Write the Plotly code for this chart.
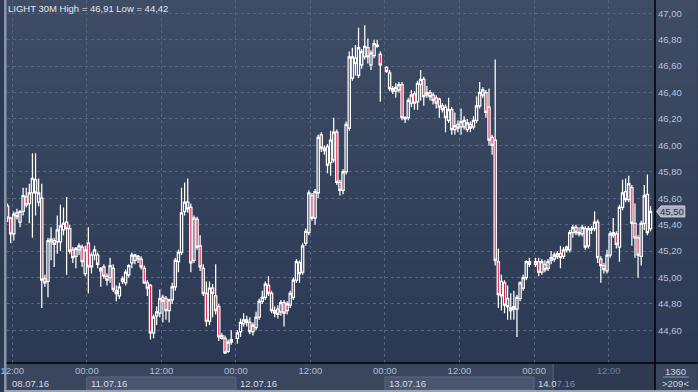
import plotly.graph_objects as go

# ---------------- data (LIGHT, 30M bars) ----------------
opens = [45.54,45.45,45.33,45.49,45.42,45.50,45.61,45.56,45.64,45.74,45.57,45.60,44.99,44.97,45.27,45.28,45.27,45.27,45.36,45.42,
         45.37,45.21,45.16,45.21,45.23,45.03,45.26,45.17,45.17,45.17,45.05,45.08,45.01,45.00,45.07,44.90,44.86,44.97,44.96,45.02,
         45.11,45.13,45.16,45.14,45.07,44.96,44.94,44.58,44.71,44.73,44.85,44.84,44.75,44.83,44.93,45.12,45.19,45.50,45.57,45.53,
         45.13,45.44,45.24,45.07,44.88,44.67,44.92,44.86,44.78,44.54,44.54,44.44,44.51,None,44.54,44.59,44.65,44.68,44.66,44.59,
         44.62,44.70,44.82,44.85,44.94,44.88,44.75,44.76,44.74,44.81,44.75,44.79,44.85,44.98,45.11,45.04,45.26,45.34,45.62,45.45,
         45.64,46.08,45.98,45.99,45.87,45.89,46.10,45.72,45.66,45.80,46.13,46.51,46.66,46.53,46.61,46.67,46.74,46.61,46.68,46.75,
         46.69,None,46.59,46.55,46.41,46.41,46.42,46.46,46.21,46.21,46.32,46.39,46.33,46.46,46.50,46.38,46.40,46.38,46.36,46.35,
         46.30,46.29,46.19,46.27,46.12,46.16,46.14,46.14,46.12,46.16,46.14,46.19,46.30,46.38,46.40,46.29,46.06,46.04,45.12,44.97,
         44.96,44.84,44.75,44.76,44.76,44.84,44.92,45.00,45.12,None,45.10,45.12,45.04,45.10,45.07,45.13,45.14,45.16,45.18,45.16,
         45.21,45.21,45.34,45.38,45.33,45.33,45.37,45.24,45.36,45.37,45.42,45.14,45.09,45.05,45.17,45.32,45.33,45.23,45.53,45.65,
         45.59,45.68,45.41,45.30,45.16,45.41,45.63,45.37]
highs = [45.56,45.46,45.50,45.52,45.51,45.68,45.68,45.71,45.94,45.94,45.75,45.71,45.02,45.30,45.38,45.30,45.47,45.55,45.53,45.61,
         45.40,45.23,45.23,45.26,45.25,45.24,45.38,45.19,45.24,45.19,45.08,45.10,45.03,45.15,45.10,44.94,44.96,45.01,45.06,45.10,
         45.19,45.18,45.17,45.16,45.09,44.98,44.95,44.72,44.78,44.91,44.87,44.86,44.84,44.96,45.15,45.21,45.68,45.72,45.75,45.56,
         45.47,45.46,45.32,45.10,44.97,44.97,44.95,45.10,44.80,44.58,44.56,44.53,44.60,None,44.60,44.69,44.73,44.71,44.70,44.66,
         44.74,44.84,44.90,44.97,45.01,44.90,44.78,44.79,44.83,44.83,44.82,44.90,45.00,45.14,45.13,45.26,45.37,45.66,45.64,45.67,
         46.08,46.10,46.00,46.01,46.11,46.21,46.12,45.74,45.82,46.18,46.71,46.74,46.76,46.89,46.73,46.91,46.81,46.72,46.80,46.80,
         46.71,None,46.60,46.57,46.45,46.47,46.48,46.48,46.22,46.36,46.42,46.41,46.49,46.57,46.52,46.45,46.42,46.40,46.38,46.36,
         46.32,46.31,46.36,46.29,46.25,46.19,46.28,46.22,46.20,46.18,46.22,46.37,46.48,46.44,46.42,46.43,46.08,46.65,45.22,45.02,
         44.98,44.94,44.88,44.90,44.87,44.97,45.02,45.13,45.15,None,45.15,45.15,45.14,45.13,45.14,45.20,45.19,45.20,45.24,45.23,
         45.24,45.36,45.40,45.40,45.38,45.40,45.39,45.39,45.39,45.50,45.44,45.16,45.11,45.21,45.35,45.45,45.35,45.55,45.74,45.75,
         45.77,45.70,45.56,45.32,45.43,45.70,45.78,45.54]
lows = [45.42,45.26,45.28,45.44,45.38,45.47,45.53,45.41,45.30,45.47,45.54,44.77,44.93,44.85,45.13,45.08,45.18,45.20,45.32,45.02,
        45.18,45.11,45.07,45.17,45.08,45.01,44.88,45.03,45.13,45.07,44.93,44.99,44.94,44.96,44.89,44.82,44.84,44.95,44.94,45.00,
        45.07,45.10,45.11,45.06,44.95,44.86,44.53,44.54,44.64,44.70,44.66,44.68,44.66,44.80,44.90,45.04,45.17,45.47,45.49,45.04,
        45.11,45.21,45.05,44.86,44.63,44.64,44.70,44.72,44.52,44.53,44.42,44.43,44.49,None,44.50,44.55,44.63,44.63,44.57,44.56,
        44.60,44.68,44.80,44.83,44.86,44.73,44.70,44.69,44.71,44.63,44.72,44.77,44.83,44.96,44.96,45.02,45.24,45.32,45.43,45.40,
        45.60,45.95,45.93,45.79,45.77,45.87,45.70,45.62,45.63,45.78,46.11,46.49,46.53,46.51,46.58,46.65,46.62,46.57,46.66,46.74,
        46.33,None,46.55,46.41,46.39,46.36,46.40,46.19,46.17,46.19,46.29,46.27,46.27,46.34,46.30,46.36,46.34,46.31,46.28,46.21,
        46.25,46.10,46.17,46.08,46.08,46.10,46.08,46.12,46.10,46.10,46.12,46.17,46.28,46.36,46.21,46.00,45.93,45.09,44.77,44.75,
        44.73,44.68,44.68,44.68,44.55,44.82,44.90,44.98,45.08,None,45.08,45.01,45.02,45.04,45.05,45.10,45.12,45.14,45.07,45.14,
        45.19,45.19,45.30,45.32,45.31,45.31,45.21,45.22,45.33,45.35,45.11,44.96,45.03,45.03,45.15,45.30,45.22,45.12,45.51,45.57,
        45.57,45.24,45.15,45.00,45.09,45.36,45.32,45.35]
closes = [45.45,45.33,45.48,45.46,45.50,45.62,45.55,45.64,45.75,45.64,45.64,44.98,44.96,45.28,45.29,45.25,45.36,45.39,45.41,45.37,
          45.20,45.15,45.22,45.24,45.12,45.21,45.08,45.08,45.21,45.10,45.07,45.01,44.98,45.09,44.91,44.88,44.93,44.99,45.04,45.09,
          45.17,45.17,45.14,45.08,44.96,44.92,44.58,44.70,44.74,44.84,44.82,44.75,44.83,44.93,45.13,45.19,45.49,45.57,45.52,45.11,
          45.45,45.23,45.08,44.88,44.67,44.92,44.88,44.75,44.55,44.56,44.43,44.51,44.53,None,44.58,44.66,44.68,44.66,44.59,44.64,
          44.70,44.82,44.85,44.95,44.88,44.75,44.73,44.72,44.81,44.73,44.80,44.88,44.98,45.12,45.03,45.24,45.35,45.64,45.45,45.65,
          46.06,45.98,45.96,45.85,46.04,46.10,45.72,45.66,45.80,46.16,46.67,46.67,46.62,46.74,46.71,46.75,46.67,46.70,46.77,46.76,
          46.61,None,46.56,46.43,46.43,46.44,46.46,46.21,46.20,46.34,46.38,46.32,46.47,46.50,46.37,46.40,46.37,46.34,46.32,46.29,
          46.27,46.21,46.27,46.12,46.15,46.13,46.18,46.19,46.17,46.13,46.19,46.30,46.40,46.42,46.25,46.04,46.00,45.13,44.87,44.86,
          44.79,44.78,44.77,44.78,44.85,44.96,45.00,45.12,45.10,None,45.12,45.04,45.12,45.06,45.12,45.15,45.17,45.18,45.15,45.21,
          45.23,45.34,45.38,45.34,45.34,45.38,45.23,45.37,45.37,45.42,45.15,45.09,45.06,45.17,45.33,45.34,45.25,45.53,45.64,45.59,
          45.71,45.41,45.30,45.17,45.41,45.62,45.34,45.50]

time_labels = ["12:00", "00:00", "12:00", "00:00", "12:00", "00:00", "12:00", "00:00", "12:00"]
date_labels = ["08.07.16", "11.07.16", "12.07.16", "13.07.16", "14.07.16"]
price_ticks = [44.60, 44.80, 45.00, 45.20, 45.40, 45.60, 45.80, 46.00, 46.20, 46.40, 46.60, 46.80, 47.00]
symbol = "LIGHT"
timeframe = "30M"
bars_label = "1360"
visible_label = ">209<"

# ---------------- geometry ----------------
W, H = 698, 392
ML, MR, MT, MB = 3, 43, 0, 29
PW, PH = W - ML - MR, H - MT - MB
n = len(closes)
xs = list(range(n))
bar_px = 3.125
first_bar_px = 3.6
x_lo = (ML - first_bar_px) / bar_px
x_hi = x_lo + PW / bar_px
px_per_unit = 132.1
y_hi = 47.00 + (13.3 - MT) / px_per_unit
y_lo = y_hi - PH / px_per_unit
tick_pos = [1.5 + 24 * k for k in range(len(time_labels))]

def px_x(p):   # figure pixel -> paper x
    return (p - ML) / PW
def px_y(p):   # figure pixel -> paper y
    return (H - MB - p) / PH
def idx_x(i):  # bar index -> paper x
    return (i - x_lo) / (x_hi - x_lo)
def val_y(v):  # price -> paper y
    return (v - y_lo) / (y_hi - y_lo)

def fmt(v):
    return f"{v:.2f}".replace(".", ",")

FONT = "Liberation Sans, Arial, sans-serif"

fig = go.Figure()
fig.add_trace(go.Candlestick(
    x=xs, open=opens, high=highs, low=lows, close=closes,
    increasing=dict(line=dict(color="#ffffff", width=1.25), fillcolor="rgba(0,0,0,0)"),
    decreasing=dict(line=dict(color="#ffffff", width=1.25), fillcolor="#e0103a"),
    whiskerwidth=0, hoverinfo="skip", showlegend=False,
))

shapes = []
# background gradient (plot + right price panel)
top_c = (63, 76, 101)
bot_c = (44, 57, 84)
N = 60
for k in range(N):
    t = (k + 0.5) / N
    c = tuple(round(top_c[j] + (bot_c[j] - top_c[j]) * t) for j in range(3))
    shapes.append(dict(type="rect", xref="paper", yref="paper", layer="below",
                       x0=px_x(0), x1=px_x(W), y0=1 - (k + 1) / N - 0.002, y1=1 - k / N,
                       fillcolor=f"rgb{c}", line=dict(width=0)))
# bottom time strip
shapes.append(dict(type="rect", xref="paper", yref="paper", layer="below",
                   x0=px_x(0), x1=px_x(W), y0=px_y(H), y1=px_y(363),
                   fillcolor="#3a465e", line=dict(width=0)))
# date boxes (11.07, 13.07)
for a, b in [(tick_pos[1], tick_pos[3]), (tick_pos[5], tick_pos[7])]:
    shapes.append(dict(type="rect", xref="paper", yref="paper", layer="below",
                       x0=idx_x(a), x1=idx_x(b), y0=px_y(390), y1=px_y(377),
                       fillcolor="#4a5670", line=dict(color="#5a6680", width=1)))
# dark area at right of time strip
shapes.append(dict(type="rect", xref="paper", yref="paper", layer="below",
                   x0=px_x(553), x1=1, y0=px_y(390), y1=px_y(364),
                   fillcolor="#2e3a52", line=dict(width=0)))
shapes.append(dict(type="line", xref="paper", yref="paper", layer="below",
                   x0=px_x(552.5), x1=px_x(552.5), y0=px_y(390), y1=px_y(364),
                   line=dict(color="#56627c", width=1)))
# frame lines
shapes.append(dict(type="line", xref="paper", yref="paper", x0=1, x1=1, y0=px_y(H), y1=px_y(0),
                   line=dict(color="#000000", width=1.5)))
shapes.append(dict(type="line", xref="paper", yref="paper", x0=px_x(0), x1=px_x(W), y0=0, y1=0,
                   line=dict(color="#000000", width=1.5)))
shapes.append(dict(type="rect", xref="paper", yref="paper", x0=px_x(0), x1=px_x(2.5), y0=px_y(H), y1=px_y(0),
                   fillcolor="#8b95a8", line=dict(width=0)))
shapes.append(dict(type="rect", xref="paper", yref="paper", x0=px_x(0), x1=px_x(W), y0=px_y(H), y1=px_y(390),
                   fillcolor="#9aa3b3", line=dict(width=0)))
# separator in lower-right box
shapes.append(dict(type="line", xref="paper", yref="paper", x0=px_x(663), x1=px_x(689), y0=px_y(377), y1=px_y(377),
                   line=dict(color="#8893a8", width=1)))
# last price tag arrow
last = closes[-1]
ly = val_y(last)
half = 5.5 / PH
shapes.append(dict(type="path", xref="paper", yref="paper",
                   path=f"M {px_x(656.5)},{ly} L {px_x(661)},{ly + half} L {px_x(685)},{ly + half} "
                        f"L {px_x(685)},{ly - half} L {px_x(661)},{ly - half} Z",
                   fillcolor="#a9b1c0", line=dict(color="#c9ced8", width=1)))

hi_v = max(h for h in highs if h is not None)
lo_v = min(l for l in lows if l is not None)
title = f"{symbol} {timeframe} High = {fmt(hi_v)} Low = {fmt(lo_v)}"

annotations = [
    dict(text=title, xref="paper", yref="paper", x=0, y=px_y(8.5), xanchor="left", yanchor="middle",
         showarrow=False, xshift=-1, font=dict(family=FONT, size=9.5, color="#e2e8f2")),
    dict(text=fmt(last), xref="paper", yref="paper", x=px_x(672), y=ly, xanchor="center", yanchor="middle",
         showarrow=False, font=dict(family=FONT, size=9.5, color="#27324a")),
    dict(text=bars_label, xref="paper", yref="paper", x=px_x(676), y=px_y(371.5), xanchor="center",
         yanchor="middle", showarrow=False, font=dict(family=FONT, size=9.5, color="#c8d3e4")),
    dict(text=visible_label, xref="paper", yref="paper", x=px_x(676), y=px_y(383.5), xanchor="center",
         yanchor="middle", showarrow=False, font=dict(family=FONT, size=9.5, color="#c8d3e4")),
]
date_pos = [px_x(6)] + [idx_x(tick_pos[k]) for k in (1, 3, 5, 7)]
for k, (lab, xp) in enumerate(zip(date_labels, date_pos)):
    txt = lab if k < 4 else lab[:4] + "<span style='color:#7f8ba3'>" + lab[4:] + "</span>"
    annotations.append(dict(text=txt, xref="paper", yref="paper", x=xp, y=px_y(383), xanchor="left",
                            yanchor="middle", showarrow=False, xshift=2 if k else 0,
                            font=dict(family=FONT, size=9.5, color="#d3dae7")))

ticktext = [t if k < len(time_labels) - 1 else f"<span style='color:#6f7c95'>{t}</span>"
            for k, t in enumerate(time_labels)]

fig.update_layout(
    width=W, height=H, margin=dict(l=ML, r=MR, t=MT, b=MB, pad=0),
    paper_bgcolor="#2c3953", plot_bgcolor="rgba(0,0,0,0)",
    separators=", ", showlegend=False, hovermode=False,
    boxgap=0.15, boxgroupgap=0.15,
    shapes=shapes, annotations=annotations,
    xaxis=dict(range=[x_lo, x_hi], rangeslider=dict(visible=False), tickmode="array",
               tickvals=tick_pos, ticktext=ticktext, showgrid=True, gridcolor="#56637d",
               griddash="3px,3px", gridwidth=1, zeroline=False, showline=False, ticks="",
               ticklabeloverflow="allow",
               tickfont=dict(family=FONT, size=9.5, color="#aebedb")),
    yaxis=dict(range=[y_lo, y_hi], side="right", tickmode="array", tickvals=price_ticks,
               ticktext=[fmt(v) for v in price_ticks], showgrid=True, gridcolor="#56637d",
               griddash="3px,3px", gridwidth=1, zeroline=False, showline=False, ticks="",
               ticklabelstandoff=2,
               tickfont=dict(family=FONT, size=9.5, color="#b3c3de")),
)

fig.write_html("out.html", config={"displayModeBar": False},
               post_script="document.body.style.margin='0px';document.body.style.overflow='hidden';")
